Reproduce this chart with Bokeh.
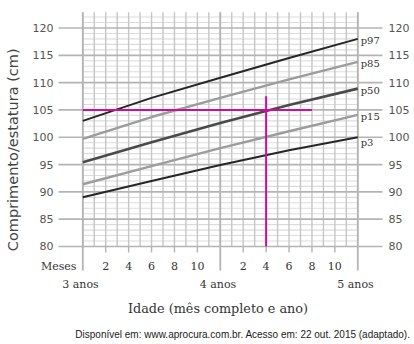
from bokeh.plotting import figure
from bokeh.models import Range1d
from bokeh.embed import file_html
from bokeh.resources import INLINE
from bokeh.core.properties import value

# ---- data ----
months = [0, 6, 12, 18, 24]
p97 = [103.0, 107.2, 110.9, 114.5, 118.0]
p85 = [99.7, 103.7, 107.2, 110.6, 113.8]
p50 = [95.4, 99.1, 102.6, 105.9, 108.9]
p15 = [91.4, 94.7, 98.0, 101.1, 104.1]
p3 = [89.0, 92.0, 94.9, 97.6, 100.0]
series_names = ["p97", "p85", "p50", "p15", "p3"]
y_ticks = [80, 85, 90, 95, 100, 105, 110, 115, 120]
x_tick_months = [2, 4, 6, 8, 10, 14, 16, 18, 20, 22]
x_tick_labels = ["2", "4", "6", "8", "10", "2", "4", "6", "8", "10"]
year_months = [0, 12, 24]
year_labels = ["3 anos", "4 anos", "5 anos"]
marker_month = 16
marker_height = 107.5
marker_ref_height = 105
marker_ref_end = 20

# ---- figure: frame covers the whole canvas ----
W, H = 414, 344
p = figure(width=W, height=H, output_backend="svg", toolbar_location=None,
           x_range=Range1d(-7.183, 28.95), y_range=Range1d(62.06, 125.03),
           min_border=0, min_border_left=0, min_border_right=0,
           min_border_top=0, min_border_bottom=0)
p.xaxis.visible = False
p.yaxis.visible = False
p.grid.visible = False
p.outline_line_color = None
p.background_fill_color = "white"
p.border_fill_color = "white"

y_min, y_max = 80, 122.9
x_min, x_max = 0, 24

# minor horizontal grid (every cm)
minor = [v for v in range(80, 123) if v % 5 != 0]
p.segment(x0=[x_min] * len(minor), x1=[x_max] * len(minor), y0=minor, y1=minor,
          line_color="#dcdcdc", line_width=1.1)
# vertical grid (every month)
vm = list(range(0, 25))
p.segment(x0=vm, x1=vm, y0=[y_min] * len(vm), y1=[y_max] * len(vm),
          line_color="#c6c6c6", line_width=1.4)
# major horizontal lines, extended as ticks on both sides
p.segment(x0=[-2.12] * len(y_ticks), x1=[26.16] * len(y_ticks), y0=y_ticks, y1=y_ticks,
          line_color="#b4b4b4", line_width=1.7)
# short month ticks below
p.segment(x0=x_tick_months, x1=x_tick_months, y0=[80] * len(x_tick_months),
          y1=[78.9] * len(x_tick_months), line_color="#b4b4b4", line_width=1.4)
# long year separators
p.segment(x0=year_months, x1=year_months, y0=[75.6] * 3, y1=[y_max] * 3,
          line_color="#b4b4b4", line_width=1.8)

# curves
colors = ["#262626", "#9c9c9c", "#4a4a4a", "#9c9c9c", "#262626"]
widths = [2.0, 2.4, 2.6, 2.4, 2.0]
for vals, c, w in zip([p97, p85, p50, p15, p3], colors, widths):
    p.line(months, vals, line_color=c, line_width=w)

# percentile labels
ends = [p97[-1], p85[-1], p50[-1], p15[-1], p3[-1]]
offs = [-0.3, -0.3, -0.3, -0.3, -1.0]
p.text(x=[24.25] * 5, y=[e + o for e, o in zip(ends, offs)], text=series_names,
       text_font=value("DejaVu Serif"), text_font_size=value("10px"),
       text_color="#333333", text_baseline="middle", text_align="left")

# magenta reading lines
mag = "#d40a9c"
p.line([0, marker_ref_end], [marker_ref_height, marker_ref_height], line_color=mag, line_width=2)
p.line([marker_month, marker_month], [80, marker_height], line_color=mag, line_width=2)

# y tick labels (left and right)
ytxt = [str(v) for v in y_ticks]
p.text(x=[-2.56] * len(y_ticks), y=y_ticks, text=ytxt, text_font=value("DejaVu Sans"),
       text_font_size=value("11px"), text_color="#555555",
       text_align="right", text_baseline="middle")
p.text(x=[26.68] * len(y_ticks), y=y_ticks, text=ytxt, text_font=value("DejaVu Sans"),
       text_font_size=value("11px"), text_color="#555555",
       text_align="left", text_baseline="middle")

# x tick labels
p.text(x=x_tick_months, y=[76.4] * len(x_tick_months), text=x_tick_labels,
       text_font=value("DejaVu Serif"), text_font_size=value("11px"), text_color="#333333",
       text_align="center", text_baseline="middle")
p.text(x=[-0.55], y=[76.4], text=["Meses"], text_font=value("DejaVu Serif"),
       text_font_size=value("11px"), text_color="#333333",
       text_align="right", text_baseline="middle")
p.text(x=[m - 0.2 for m in year_months], y=[73.1] * 3, text=year_labels,
       text_font=value("DejaVu Serif"), text_font_size=value("11px"), text_color="#333333",
       text_align="center", text_baseline="middle")

# axis titles
p.text(x=[11.8], y=[68.6], text=["Idade (mês completo e ano)"],
       text_font=value("DejaVu Serif"), text_font_size=value("12.8px"), text_color="#333333",
       text_align="center", text_baseline="middle")
p.text(x=[-6.13], y=[97.7], text=["Comprimento/estatura (cm)"], angle=1.5708,
       text_font=value("DejaVu Sans"), text_font_size=value("14.5px"), text_color="#444444",
       text_align="center", text_baseline="middle")

# source
p.text(x=[28.6], y=[63.95], text=["Disponível em: www.aprocura.com.br. Acesso em: 22 out. 2015 (adaptado)."],
       text_font=value("Liberation Sans"), text_font_size=value("10px"), text_color="#1a1a1a",
       text_align="right", text_baseline="middle")

open("out.html", "w").write(file_html(p, INLINE))
